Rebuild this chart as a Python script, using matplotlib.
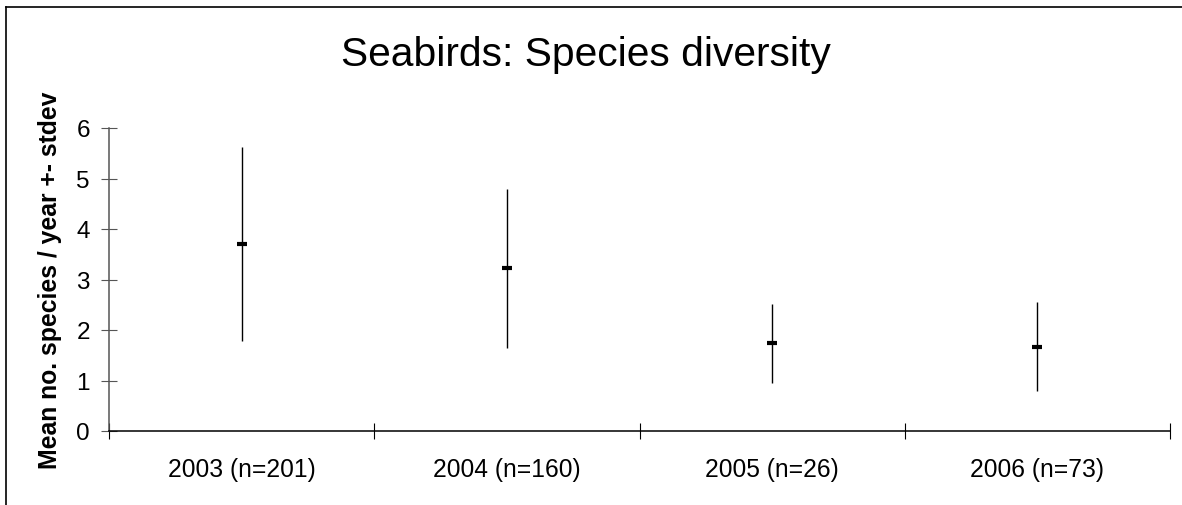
import matplotlib
matplotlib.use("Agg")
import matplotlib.pyplot as plt
from matplotlib.lines import Line2D

plt.rcParams['font.family'] = ['Liberation Sans', 'DejaVu Sans']

# datos
years = ["2003 (n=201)", "2004 (n=160)", "2005 (n=26)", "2006 (n=73)"]
means = [3.71, 3.22, 1.74, 1.67]
stdevs = [1.92, 1.58, 0.78, 0.88]

fig = plt.figure(figsize=(11.82, 5.06), dpi=100)
ax = fig.add_axes([109/1182, 1-432/506, (1170-109)/1182, (432-129)/506])

x = [i + 0.5 for i in range(len(years))]

# barras de error (media +- desviacion)
ax.errorbar(x, means, yerr=stdevs, fmt='none', ecolor='black', elinewidth=1.0, capsize=0)
ax.plot(x, means, linestyle='none', marker='_', markersize=7.5, markeredgewidth=3, color='black')

ax.set_xlim(0, len(years))
ax.set_ylim(0, 6)
ax.set_yticks(range(7))
ax.set_xticks(range(len(years) + 1))
ax.set_xticklabels([])
ax.set_xticks(x, minor=True)
ax.set_xticklabels(years, minor=True)

ax.tick_params(axis='both', which='major', direction='inout', length=11.5, width=0.8, labelsize=17.5, colors='black')
ax.tick_params(axis='y', pad=8, colors='#555555', labelcolor='black')
ax.tick_params(axis='x', which='minor', length=0, labelsize=17.7, pad=19)

for s in ['top', 'right']:
    ax.spines[s].set_visible(False)
ax.spines['left'].set_color('#555555')
ax.spines['left'].set_linewidth(1.1)
ax.spines['bottom'].set_color('black')
ax.spines['bottom'].set_linewidth(1.1)

ax.set_ylabel("Mean no. species / year +- stdev", fontsize=17.8, fontweight='bold', labelpad=10)
fig.text(586/1182, 1-55/506, "Seabirds: Species diversity", fontsize=29.3, ha='center', va='center')

# marco del grafico
fig.add_artist(Line2D([6/1182, 6/1182], [0, 1-8/506], color='black', linewidth=1.2))
fig.add_artist(Line2D([6/1182, 1], [1-8/506, 1-8/506], color='black', linewidth=1.2))

fig.savefig("out.png", dpi=100)
